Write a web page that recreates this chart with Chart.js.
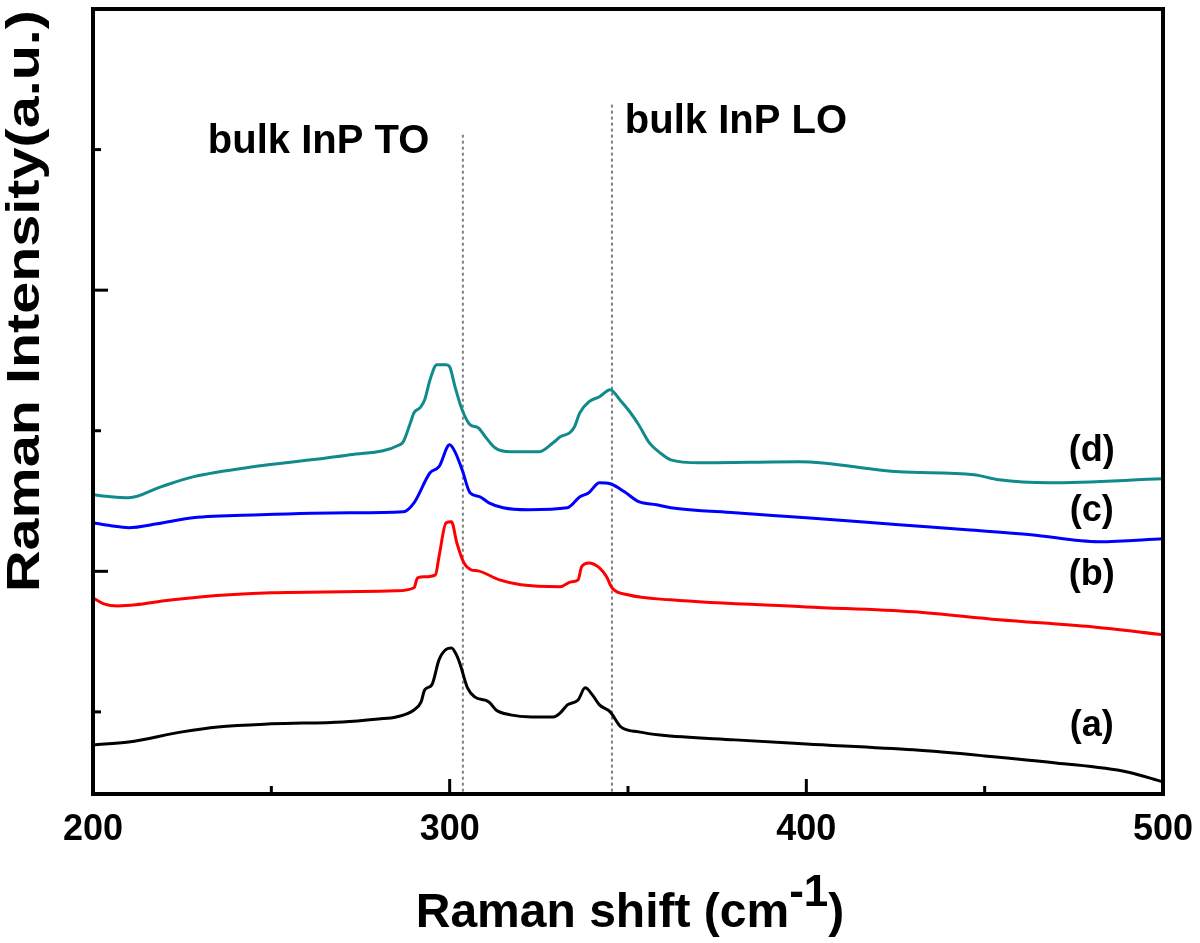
<!DOCTYPE html>
<html>
<head>
<meta charset="utf-8">
<script src="https://cdn.jsdelivr.net/npm/chart.js@4.4.0/dist/chart.umd.min.js"></script>
<style>
  html, body { margin: 0; padding: 0; background: #fff; }
  #wrap { width: 1200px; height: 943px; position: relative; }
</style>
</head>
<body>
<div id="wrap"><canvas id="ramanChart"></canvas></div>
<script>
// Raman spectra, offset vertically (arbitrary units)
const shiftA = [200,210,225,235,250,270,280,285,290,292,293,295,297,299,300.5,302,303,305,307,311,313,317,323,329,331,333,336,338,340,342,345,348,353,359,380,400,430,450,470,490,500];
const intensityA = [765,786,858,893,915,929,950,964,1014,1071,1157,1192,1370,1445,1455,1400,1334,1171,1107,1071,1014,979,964,964,993,1050,1085,1171,1121,1050,1000,893,858,836,801,772,730,687,637,573,502];

const shiftB = [200,203,207,212,220,230,250,270,285,290,291,293,296,297,299,300.5,302,304,306,308,314,320,331,334,336,337,339,342,344,345.5,350,362,400,430,454,480,500];
const intensityB = [1811,1769,1754,1762,1790,1818,1847,1854,1861,1883,1954,1961,1975,2103,2345,2352,2203,2060,2011,2003,1939,1904,1890,1925,1939,2032,2060,2025,1961,1883,1833,1797,1747,1712,1655,1605,1548];

const shiftC = [200,205,210,218,228,247,272,287,290,294.5,297,300,301.5,303.5,305.7,308.5,311,315,322,333,336.5,339,342,345,349,353,358,362,380,400,426,445,463,482,500];
const intensityC = [2345,2324,2310,2338,2381,2402,2416,2423,2487,2701,2744,2900,2850,2722,2559,2530,2487,2452,2438,2452,2530,2559,2630,2623,2566,2495,2473,2452,2416,2381,2331,2295,2260,2210,2231];

const shiftD = [200,205,210,219,228,247,272,286,287,289,290,291.7,293,294.5,296.4,299,300,301.5,303.5,305.7,308,310,312.7,317,325,329,331,333.7,335,336.5,339,342,345,347.7,350.5,353,356,359,362,370,398,426,447,454,468,500];
const intensityD = [2544,2530,2523,2601,2672,2751,2829,2900,2922,3057,3128,3164,3221,3363,3470,3470,3455,3313,3149,3043,3021,2957,2879,2850,2850,2914,2957,2986,3028,3128,3206,3242,3292,3221,3135,3043,2914,2843,2793,2772,2779,2708,2687,2651,2630,2658];

const sampleLabels = ['(a)', '(b)', '(c)', '(d)'];
const sampleLabelShift = 480;
const sampleLabelY = [900, 1975, 2431, 2858];

const xTicks = [200, 250, 300, 350, 400, 450, 500];
const xMajor = [200, 300, 400, 500];
const yTicks = [1000, 2000, 3000, 4000, 5000];
const yMajor = [2000, 4000];

const peakNames = ['bulk InP TO', 'bulk InP LO'];
const peakShift = [303.7, 345.5];
const peakTop = [5106, 5320];
const peakTextShift = [232.2, 349.1];
const peakTextY = [4978, 5121];

const FONT = '"Liberation Sans", Arial, sans-serif';

function toPoints(xs, ys) {
  return xs.map((x, i) => ({ x: x, y: ys[i] }));
}

const decorations = {
  id: 'decorations',
  beforeDatasetsDraw(chart) {
    const { ctx, scales: { x, y } } = chart;
    const bottom = chart.chartArea.bottom;
    ctx.save();
    ctx.strokeStyle = '#808080';
    ctx.lineWidth = 2;
    ctx.setLineDash([3, 3]);
    peakShift.forEach((s, i) => {
      const px = x.getPixelForValue(s);
      ctx.beginPath();
      ctx.moveTo(px, y.getPixelForValue(peakTop[i]));
      ctx.lineTo(px, bottom);
      ctx.stroke();
    });
    ctx.restore();
  },
  afterDatasetsDraw(chart) {
    const { ctx, chartArea: a, scales: { x, y } } = chart;
    ctx.save();

    // frame
    ctx.strokeStyle = '#000';
    ctx.lineWidth = 4;
    ctx.strokeRect(a.left, a.top, a.right - a.left, a.bottom - a.top);

    // inward ticks
    ctx.lineWidth = 3;
    xTicks.forEach(v => {
      const px = x.getPixelForValue(v);
      const len = xMajor.includes(v) ? 15 : 8;
      ctx.beginPath();
      ctx.moveTo(px, a.bottom);
      ctx.lineTo(px, a.bottom - len);
      ctx.stroke();
    });
    yTicks.forEach(v => {
      const py = y.getPixelForValue(v);
      const len = yMajor.includes(v) ? 15 : 8;
      ctx.beginPath();
      ctx.moveTo(a.left, py);
      ctx.lineTo(a.left + len, py);
      ctx.stroke();
    });

    ctx.fillStyle = '#000';

    // x tick labels
    ctx.font = 'bold 36px ' + FONT;
    ctx.textAlign = 'center';
    ctx.textBaseline = 'middle';
    xMajor.forEach(v => {
      ctx.fillText(String(v), x.getPixelForValue(v), 830);
    });

    // peak names
    ctx.font = 'bold 40px ' + FONT;
    ctx.textAlign = 'left';
    ctx.textBaseline = 'alphabetic';
    peakNames.forEach((t, i) => {
      ctx.fillText(t, x.getPixelForValue(peakTextShift[i]), y.getPixelForValue(peakTextY[i]));
    });

    // sample labels
    ctx.font = 'bold 36px ' + FONT;
    ctx.textAlign = 'center';
    ctx.textBaseline = 'middle';
    sampleLabels.forEach((t, i) => {
      ctx.fillText(t, x.getPixelForValue(sampleLabelShift), y.getPixelForValue(sampleLabelY[i]));
    });

    // x axis title with superscript
    const main = 'Raman shift (cm';
    const sup = '-1';
    const close = ')';
    ctx.textAlign = 'left';
    ctx.textBaseline = 'alphabetic';
    ctx.font = 'bold 48px ' + FONT;
    const wMain = ctx.measureText(main).width;
    const wClose = ctx.measureText(close).width;
    ctx.font = 'bold 44px ' + FONT;
    const wSup = ctx.measureText(sup).width;
    let sx = 630 - (wMain + wSup + wClose) / 2;
    ctx.font = 'bold 48px ' + FONT;
    ctx.fillText(main, sx, 927);
    sx += wMain;
    ctx.font = 'bold 44px ' + FONT;
    ctx.fillText(sup, sx, 906);
    sx += wSup;
    ctx.font = 'bold 48px ' + FONT;
    ctx.fillText(close, sx, 927);

    // y axis title
    ctx.translate(26, 301);
    ctx.rotate(-Math.PI / 2);
    ctx.font = 'bold 46px ' + FONT;
    const yt = 'Raman Intensity(a.u.)';
    const wy = ctx.measureText(yt).width;
    ctx.scale(582 / wy, 1);
    ctx.textAlign = 'center';
    ctx.textBaseline = 'middle';
    ctx.fillText(yt, 0, 0);

    ctx.restore();
  }
};

new Chart(document.getElementById('ramanChart'), {
  type: 'line',
  data: {
    datasets: [
      { label: '(a)', data: toPoints(shiftA, intensityA), borderColor: '#000000' },
      { label: '(b)', data: toPoints(shiftB, intensityB), borderColor: '#ff0000' },
      { label: '(c)', data: toPoints(shiftC, intensityC), borderColor: '#0000ff' },
      { label: '(d)', data: toPoints(shiftD, intensityD), borderColor: '#108a8a' }
    ]
  },
  options: {
    responsive: true,
    maintainAspectRatio: false,
    animation: false,
    layout: { padding: { left: 93, right: 37, top: 9, bottom: 149 } },
    elements: {
      line: { borderWidth: 3, fill: false, cubicInterpolationMode: 'monotone' },
      point: { radius: 0 }
    },
    plugins: {
      legend: { display: false },
      tooltip: { enabled: false }
    },
    scales: {
      x: { type: 'linear', min: 200, max: 500, display: false },
      y: { type: 'linear', min: 416, max: 6000, display: false }
    }
  },
  plugins: [decorations]
});
</script>
</body>
</html>
